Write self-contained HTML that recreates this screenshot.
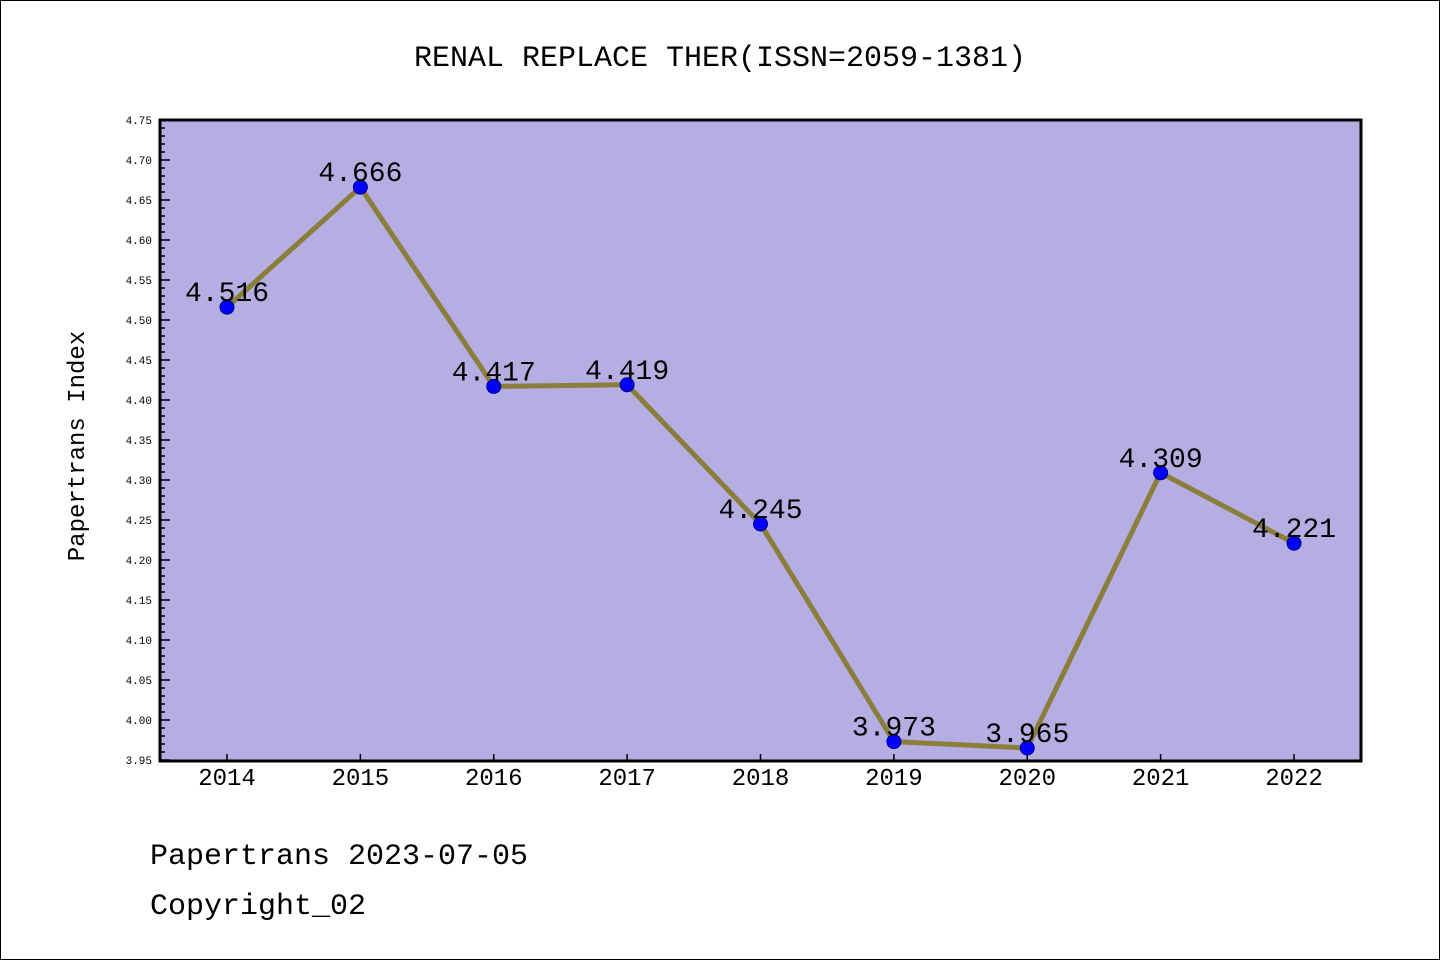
<!DOCTYPE html>
<html><head><meta charset="utf-8"><style>
html,body{margin:0;padding:0;background:#fff}
svg{display:block}
text{font-family:"Liberation Mono","Noto Sans CJK SC",monospace}
</style></head><body>
<svg id="chart" width="1440" height="960" xmlns="http://www.w3.org/2000/svg">
<rect x="0.5" y="0.5" width="1439" height="959" fill="#fff" stroke="#000"/>
<text x="720" y="66" text-anchor="middle" font-size="30">RENAL REPLACE THER(ISSN=2059-1381)</text>
<rect x="160" y="120" width="1201" height="641" fill="#b5aee2"/>
<g id="yaxis"></g>
<g id="xaxis"></g>
<g id="series"></g>
<rect x="160" y="120" width="1201" height="641" fill="none" stroke="#000" stroke-width="3"/>
<text transform="translate(84,446) rotate(-90)" text-anchor="middle" font-size="24">Papertrans Index</text>
<text x="150" y="864" font-size="30">Papertrans 2023-07-05</text>
<text x="150" y="914" font-size="30">Copyright_02</text>
</svg>
<script>
const years = [2014,2015,2016,2017,2018,2019,2020,2021,2022];
const values = [4.516,4.666,4.417,4.419,4.245,3.973,3.965,4.309,4.221];
const yTicks = ["3.95","4.00","4.05","4.10","4.15","4.20","4.25","4.30","4.35","4.40","4.45","4.50","4.55","4.60","4.65","4.70","4.75"];
const NS="http://www.w3.org/2000/svg";
const yMin=3.95,yMax=4.75,yTop=120,yBot=760;
function ys(v){return yBot-(v-yMin)/(yMax-yMin)*(yBot-yTop);}
function xs(i){return 227+i*(1294-227)/(years.length-1);}
function mk(tag,attrs,parent){const e=document.createElementNS(NS,tag);for(const k in attrs)e.setAttribute(k,attrs[k]);parent.appendChild(e);return e;}
const ya=document.getElementById('yaxis'),xa=document.getElementById('xaxis'),sg=document.getElementById('series');
for(let k=0;k<=80;k++){
  const v=yMin+k*0.01,y=ys(v),major=k%5===0;
  const t=mk('line',{x1:160,x2:160+(major?10:5),y1:y,y2:y,stroke:'#000','stroke-width':1.5},ya);
  
  
}
yTicks.forEach(s=>{
  const tx=mk('text',{x:152,y:ys(parseFloat(s))+4,'text-anchor':'end','font-size':11,'font-family':'Liberation Sans, sans-serif'},ya);
  tx.textContent=s;
  
  
});
years.forEach((yr,i)=>{
  const x=xs(i);
  const t=mk('line',{x1:x,x2:x,y1:760,y2:754,stroke:'#000','stroke-width':1.5},xa);
  
  
  const tx=mk('text',{x:x,y:785,'text-anchor':'middle','font-size':24,'font-family':'Liberation Sans, sans-serif'},xa);
  tx.textContent=yr;
  
  
});
const pl=mk('polyline',{points:values.map((v,i)=>xs(i)+','+ys(v)).join(' '),fill:'none',stroke:'#8b7d3a','stroke-width':5},sg);


values.forEach((v,i)=>{
  const c=mk('circle',{cx:xs(i),cy:ys(v),r:7,fill:'#0000ff',stroke:'#00008b','stroke-width':1},sg);
  
  
});
values.forEach((v,i)=>{
  const tx=mk('text',{x:xs(i),y:ys(v)-6,'text-anchor':'middle','font-size':28},sg);
  tx.textContent=v.toFixed(3);
  
  
});
</script>
</body></html>
